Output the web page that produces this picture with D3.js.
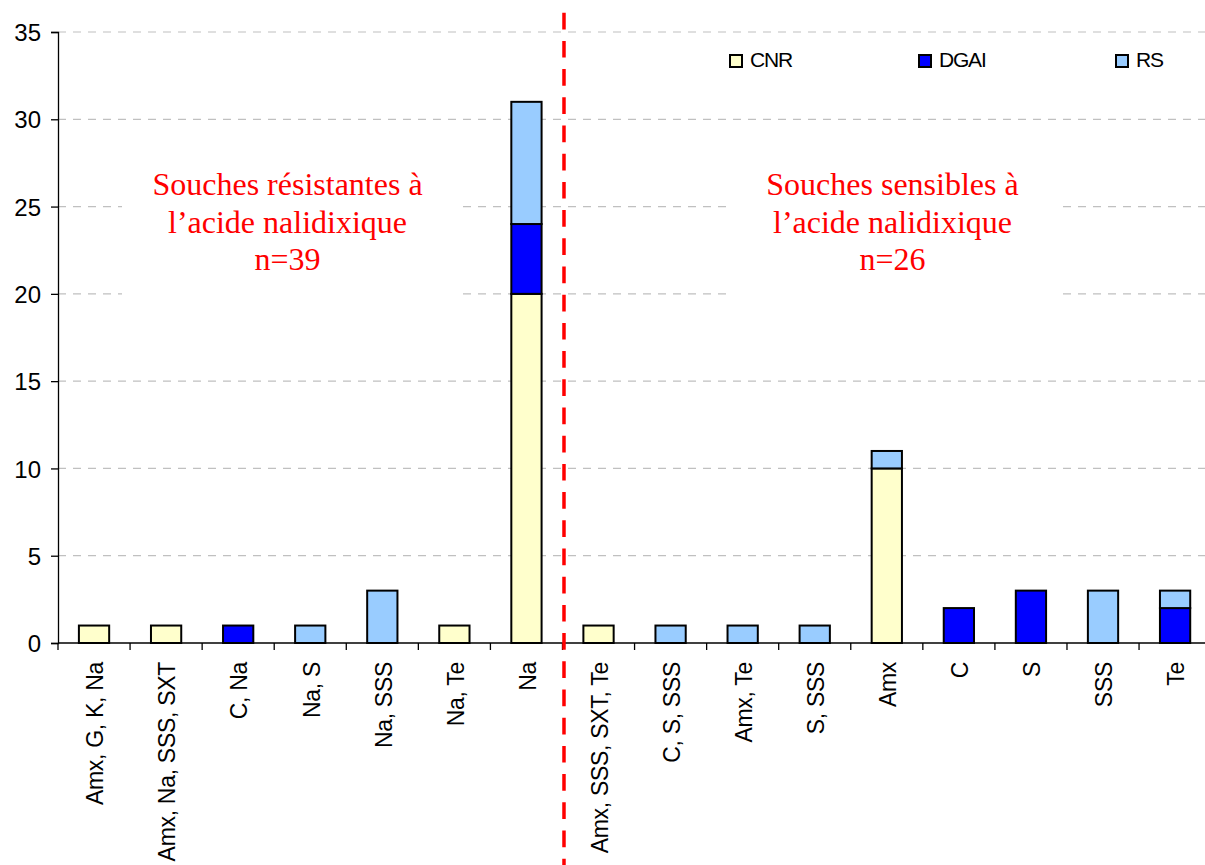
<!DOCTYPE html>
<html>
<head>
<meta charset="utf-8">
<script src="https://cdn.jsdelivr.net/npm/d3@7/dist/d3.min.js"></script>
<style>
  html, body { margin: 0; padding: 0; background: #fff; }
  svg { display: block; }
</style>
</head>
<body>
<svg id="chart" width="1205" height="865"></svg>
<script>
const categories = ["Amx, G, K, Na", "Amx, Na, SSS, SXT", "C, Na", "Na, S", "Na, SSS", "Na, Te", "Na",
  "Amx, SSS, SXT, Te", "C, S, SSS", "Amx, Te", "S, SSS", "Amx", "C", "S", "SSS", "Te"];
const seriesNames = ["CNR", "DGAI", "RS"];
const cnr  = [1, 1, 0, 0, 0, 1, 20, 1, 0, 0, 0, 10, 0, 0, 0, 0];
const dgai = [0, 0, 1, 0, 0, 0, 4, 0, 0, 0, 0, 0, 2, 3, 0, 2];
const rs   = [0, 0, 0, 1, 3, 0, 7, 0, 1, 1, 1, 1, 0, 0, 3, 1];
const yTicks = [0, 5, 10, 15, 20, 25, 30, 35];
const colors = ["#FFFFCC", "#0000FF", "#99CCFF"];
const leftNote = ["Souches résistantes à", "l\u2019acide nalidixique", "n=39"];
const rightNote = ["Souches sensibles à", "l\u2019acide nalidixique", "n=26"];
const splitIndex = 7;

const svg = d3.select("#chart");
const W = 1205, H = 865;
const x0 = 58, x1 = 58 + 16 * 72.07;
const yTop = 32, yBot = 643;

const x = d3.scaleBand().domain(categories).range([x0, x1]).paddingInner(0).paddingOuter(0);
const y = d3.scaleLinear().domain([0, 35]).range([yBot, yTop]);
const barW = x.bandwidth() * 0.42;

const sans = "'Liberation Sans', Arial, sans-serif";
const serif = "'Liberation Serif', 'Times New Roman', serif";

// gridlines
svg.append("g").selectAll("line").data(yTicks.filter(d => d > 0)).join("line")
  .attr("x1", x0).attr("x2", x1)
  .attr("y1", d => y(d)).attr("y2", d => y(d))
  .attr("stroke", "#c0c0c0").attr("stroke-width", 1.2)
  .attr("stroke-dasharray", "8,7");

// white boxes behind annotations
svg.append("rect").attr("x", 122).attr("y", 150).attr("width", 336).attr("height", 152).attr("fill", "#fff");
svg.append("rect").attr("x", 727).attr("y", 150).attr("width", 331).attr("height", 152).attr("fill", "#fff");

// stacked bars
const table = categories.map((c, i) => ({ cat: c, CNR: cnr[i], DGAI: dgai[i], RS: rs[i] }));
const stack = d3.stack().keys(seriesNames)(table);
const gBars = svg.append("g");
stack.forEach((layer, k) => {
  gBars.append("g").selectAll("rect")
    .data(layer.filter(d => d[1] - d[0] > 0)).join("rect")
    .attr("x", d => x(d.data.cat) + (x.bandwidth() - barW) / 2)
    .attr("width", barW)
    .attr("y", d => y(d[1]))
    .attr("height", d => y(d[0]) - y(d[1]))
    .attr("fill", colors[k])
    .attr("stroke", "#000").attr("stroke-width", 2);
});

// y axis
const yAxis = d3.axisLeft(y).tickValues(yTicks).tickSize(7).tickPadding(10);
const gy = svg.append("g").attr("transform", `translate(${x0},0)`).call(yAxis);
gy.select(".domain").attr("stroke", "#000").attr("stroke-width", 1.3);
gy.selectAll(".tick line").attr("stroke", "#000").attr("stroke-width", 1.3);
gy.selectAll("text").attr("font-family", sans).attr("font-size", 24).attr("fill", "#000")
  .attr("dy", "0.36em");

// x axis
const tickPos = d3.range(categories.length + 1).map(i => x0 + i * x.step());
const gx = svg.append("g");
gx.append("line").attr("x1", x0).attr("x2", W).attr("y1", yBot).attr("y2", yBot)
  .attr("stroke", "#000").attr("stroke-width", 1.3);
gx.selectAll(".xt").data(tickPos).join("line").attr("class", "xt")
  .attr("x1", d => d).attr("x2", d => d).attr("y1", yBot).attr("y2", yBot + 7)
  .attr("stroke", "#000").attr("stroke-width", 1.3);
gx.selectAll("text").data(categories).join("text")
  .attr("transform", d => `translate(${x(d) + x.bandwidth() / 2 + 1},662) rotate(-90)`)
  .attr("text-anchor", "end").attr("dy", "0.36em")
  .attr("font-family", sans).attr("font-size", 23).attr("letter-spacing", "-0.3px")
  .attr("fill", "#000").text(d => d);

// red dashed separator
const sepX = x0 + splitIndex * x.step() + 1.5;
svg.append("line").attr("x1", sepX).attr("x2", sepX).attr("y1", 12.7).attr("y2", H)
  .attr("stroke", "#ff0000").attr("stroke-width", 3.5).attr("stroke-dasharray", "16.7,11.5");

// annotations
function note(lines, cx) {
  const t = svg.append("text").attr("font-family", serif).attr("font-size", 32)
    .attr("fill", "#ff0000").attr("text-anchor", "middle");
  lines.forEach((l, i) => t.append("tspan").attr("x", cx).attr("y", 195 + i * 37.5).text(l));
}
note(leftNote, 287.5);
note(rightNote, 892.5);

// legend
const legX = [730, 919, 1116];
const lg = svg.append("g");
seriesNames.forEach((s, i) => {
  lg.append("rect").attr("x", legX[i]).attr("y", 55).attr("width", 12).attr("height", 12)
    .attr("fill", colors[i]).attr("stroke", "#000").attr("stroke-width", 2);
  lg.append("text").attr("x", legX[i] + 20).attr("y", 67)
    .attr("font-family", sans).attr("font-size", 21).attr("letter-spacing", "-1.2px")
    .attr("fill", "#000").text(s);
});
</script>
</body>
</html>
